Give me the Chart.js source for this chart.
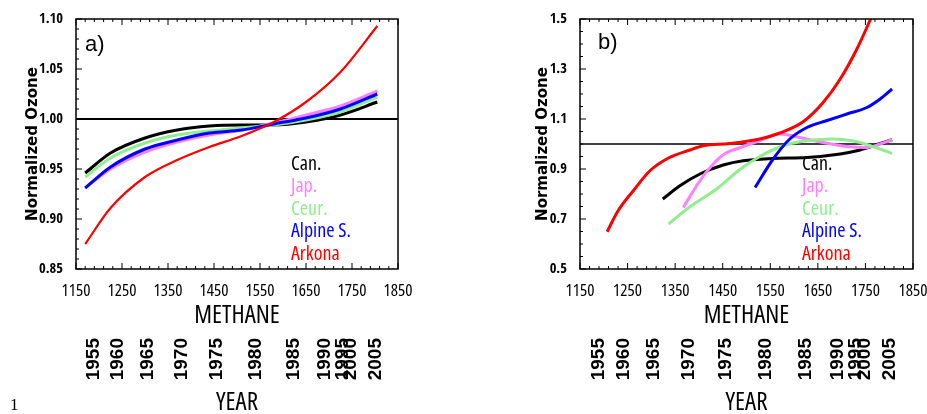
<!DOCTYPE html>
<html>
<head>
<meta charset="utf-8">
<script src="https://cdn.jsdelivr.net/npm/chart.js@4.4.1/dist/chart.umd.min.js"></script>
<style>
  body { margin: 0; background: #fff; }
  #wrap { position: relative; width: 927px; height: 414px; overflow: hidden; }
  canvas { position: absolute; top: 0; }
  #pageNo { position: absolute; left: 10px; top: 395px; font: 17px 'Liberation Serif', serif; }
</style>
</head>
<body>
<div id="wrap">
  <canvas id="chartA" width="463" height="414" style="left:0;width:463px;height:414px"></canvas>
  <canvas id="chartB" width="464" height="414" style="left:463px;width:464px;height:414px"></canvas>
  <span id="pageNo">1</span>
</div>
<script>
// axes
const methaneTicks = [1150, 1250, 1350, 1450, 1550, 1650, 1750, 1850];
const yearLabels = ['1955', '1960', '1965', '1970', '1975', '1980', '1985', '1990', '1995', '2000', '2005'];
const yearMethane = [1189, 1241, 1305, 1379, 1457, 1540, 1624, 1691, 1730, 1748, 1802];
const ozoneTicksA = [0.85, 0.90, 0.95, 1.00, 1.05, 1.10];
const ozoneTicksB = [0.5, 0.7, 0.9, 1.1, 1.3, 1.5];
const refOzone = 1.0;

const seriesNames = ['Can.', 'Jap.', 'Ceur.', 'Alpine S.', 'Arkona'];
const seriesColors = ['#000000', '#ff80ff', '#90ee90', '#0000ff', '#ff0000'];

// panel a) : all stations on the same methane grid
const methaneA = [1170, 1225, 1300, 1370, 1440, 1510, 1580, 1650, 1725, 1805];
const canA    = [0.946, 0.966, 0.981, 0.989, 0.993, 0.994, 0.994, 0.997, 1.004, 1.017];
const japA    = [0.931, 0.950, 0.967, 0.977, 0.984, 0.989, 0.996, 1.004, 1.013, 1.028];
const ceurA   = [0.942, 0.961, 0.976, 0.984, 0.988, 0.991, 0.994, 0.999, 1.007, 1.022];
const alpineA = [0.931, 0.952, 0.970, 0.979, 0.986, 0.989, 0.995, 1.001, 1.010, 1.025];
const arkonaA = [0.875, 0.911, 0.942, 0.959, 0.972, 0.983, 0.997, 1.017, 1.047, 1.093];

// panel b) : each station on its own methane range
const canMethaneB    = [1324, 1360, 1402, 1451, 1493, 1556, 1627, 1697, 1732, 1767, 1806];
const canB           = [0.780, 0.833, 0.880, 0.916, 0.933, 0.942, 0.946, 0.960, 0.973, 0.993, 1.017];
const japMethaneB    = [1367, 1402, 1430, 1455, 1486, 1525, 1570, 1612, 1661, 1711, 1753, 1781, 1806];
const japB           = [0.746, 0.853, 0.920, 0.962, 0.985, 1.012, 1.040, 1.026, 1.006, 0.990, 0.986, 1.000, 1.017];
const ceurMethaneB   = [1336, 1381, 1437, 1486, 1528, 1577, 1627, 1683, 1732, 1767, 1806];
const ceurB          = [0.680, 0.749, 0.820, 0.898, 0.950, 0.993, 1.013, 1.020, 1.009, 0.989, 0.962];
const alpineMethaneB = [1518, 1556, 1591, 1627, 1668, 1711, 1753, 1781, 1806];
const alpineB        = [0.826, 0.940, 1.020, 1.066, 1.093, 1.120, 1.146, 1.180, 1.220];
const arkonaMethaneB = [1207, 1230, 1262, 1297, 1336, 1381, 1409, 1465, 1528, 1570, 1619, 1661, 1697, 1732, 1768];
const arkonaB        = [0.649, 0.733, 0.813, 0.893, 0.944, 0.976, 0.993, 1.002, 1.020, 1.044, 1.089, 1.166, 1.260, 1.380, 1.530];

// condensed Open Sans stands in for the narrow Helvetica of the original
const OPEN = "'Open Sans', sans-serif";
const OPEN_COND = "'Open Sans Condensed', 'Roboto Condensed', sans-serif";
const SANS = "'Liberation Sans', Arial, sans-serif";
const DEJAVU = "'DejaVu Sans', sans-serif";

function pts(xs, ys) {
  return xs.map((m, i) => ({ x: m, y: ys[i] }));
}

// box round the plot with inward ticks (left, top, bottom)
const framePlugin = {
  id: 'frame',
  afterDatasetsDraw(chart, args, opts) {
    const { ctx, chartArea: a, scales } = chart;
    const x = scales.x, y = scales.y;
    ctx.save();
    ctx.strokeStyle = '#000';
    ctx.lineWidth = 1.5;
    ctx.strokeRect(a.left, a.top, a.width, a.height);
    ctx.lineWidth = 1;
    ctx.beginPath();
    const nx = Math.round((x.max - x.min) / opts.xMinor);
    for (let i = 0; i <= nx; i++) {
      const px = x.getPixelForValue(x.min + i * opts.xMinor);
      const len = (i % opts.xPer === 0) ? 6 : 3;
      ctx.moveTo(px, a.bottom); ctx.lineTo(px, a.bottom - len);
      ctx.moveTo(px, a.top); ctx.lineTo(px, a.top + len);
    }
    const ny = Math.round((y.max - y.min) / opts.yMinor);
    for (let i = 0; i <= ny; i++) {
      const py = y.getPixelForValue(y.min + i * opts.yMinor);
      const len = (i % opts.yPer === 0) ? 6 : 3;
      ctx.moveTo(a.left, py); ctx.lineTo(a.left + len, py);
    }
    ctx.stroke();
    ctx.restore();
  }
};

// panel tag and coloured station names
const textPlugin = {
  id: 'panelText',
  afterDraw(chart, args, opts) {
    const { ctx, chartArea: a } = chart;
    ctx.save();
    ctx.font = '22px ' + SANS;
    ctx.fillStyle = '#000';
    ctx.textBaseline = 'alphabetic';
    ctx.fillText(opts.tag, a.left + opts.tagX, a.top + opts.tagY);
    ctx.font = 'condensed 20px ' + OPEN;
    ctx.textBaseline = 'middle';
    let row = 0;
    chart.data.datasets.forEach(ds => {
      if (!ds.label) return;
      ctx.fillStyle = ds.borderColor;
      ctx.fillText(ds.label, a.left + opts.legendX, a.top + 145 + row * 22.5);
      row++;
    });
    ctx.restore();
  }
};

function makeChart(id, o) {
  const datasets = o.series.map((s, i) => ({
    label: seriesNames[i],
    data: s,
    borderColor: seriesColors[i],
    borderWidth: o.widths[i],
    pointRadius: 0,
    cubicInterpolationMode: 'monotone',
    order: 5 - i
  }));
  datasets.push({
    label: '',
    data: pts([1150, 1850], [refOzone, refOzone]),
    borderColor: '#000',
    borderWidth: o.refWidth,
    pointRadius: 0,
    order: 10
  });

  return new Chart(document.getElementById(id), {
    type: 'line',
    data: { datasets: datasets },
    options: {
      responsive: false,
      animation: false,
      devicePixelRatio: 1,
      layout: { padding: { left: o.padLeft, right: o.padRight, top: 19, bottom: 0 } },
      plugins: {
        legend: { display: false },
        tooltip: { enabled: false },
        frame: o.frame,
        panelText: o.text
      },
      scales: {
        x: {
          type: 'linear', position: 'bottom', min: 1150, max: 1850, weight: 0,
          afterBuildTicks: s => { s.ticks = methaneTicks.map(v => ({ value: v })); },
          afterFit: s => { s.height = 58; s.paddingLeft = 0; s.paddingRight = 0; },
          grid: { display: false }, border: { display: false },
          ticks: { autoSkip: false, maxRotation: 0, padding: 4, color: '#000',
                   font: { family: OPEN, size: 17, weight: 'condensed' },
                   callback: v => String(v) },
          title: { display: true, text: 'METHANE', color: '#000', padding: { top: 0, bottom: -4 },
                   font: { family: OPEN, size: 25, weight: 'condensed' } }
        },
        year: {
          type: 'linear', position: 'bottom', min: 1150, max: 1850, weight: 1,
          afterBuildTicks: s => { s.ticks = yearMethane.map(v => ({ value: v })); },
          afterFit: s => { s.height = 87; s.paddingLeft = 0; s.paddingRight = 0; },
          grid: { display: false }, border: { display: false },
          ticks: { autoSkip: false, minRotation: 90, maxRotation: 90, padding: 3, color: '#000',
                   font: { family: SANS, size: 19, weight: 'bold' },
                   callback: (v, i) => yearLabels[i] },
          title: { display: true, text: 'YEAR', color: '#000', padding: { top: 0, bottom: -4 },
                   font: { family: OPEN, size: 25, weight: 'condensed' } }
        },
        y: {
          type: 'linear', position: 'left', min: o.yMin, max: o.yMax,
          afterBuildTicks: s => { s.ticks = o.yTicks.map(v => ({ value: v })); },
          afterFit: s => { s.width = o.yWidth; s.paddingTop = 0; s.paddingBottom = 0; },
          grid: { display: false }, border: { display: false },
          ticks: { padding: 5, color: '#000',
                   font: { family: OPEN_COND, size: 14.5, weight: 'bold' },
                   callback: v => v.toFixed(o.digits) },
          title: { display: true, text: 'Normalized Ozone', color: '#000', padding: 0,
                   font: { family: DEJAVU, size: 15, weight: 'bold' } }
        }
      }
    },
    plugins: [framePlugin, textPlugin]
  });
}

makeChart('chartA', {
  series: [pts(methaneA, canA), pts(methaneA, japA), pts(methaneA, ceurA),
           pts(methaneA, alpineA), pts(methaneA, arkonaA)],
  widths: [3, 3, 3, 3, 2.2],
  refWidth: 2,
  padLeft: 24, yWidth: 52, padRight: 65,
  yMin: 0.85, yMax: 1.10, yTicks: ozoneTicksA, digits: 2,
  frame: { xMinor: 20, xPer: 5, yMinor: 0.01, yPer: 5 },
  text: { tag: 'a)', tagX: 9, tagY: 32, legendX: 215 }
});

makeChart('chartB', {
  series: [pts(canMethaneB, canB), pts(japMethaneB, japB), pts(ceurMethaneB, ceurB),
           pts(alpineMethaneB, alpineB), pts(arkonaMethaneB, arkonaB)],
  widths: [3, 3, 3, 3, 3],
  refWidth: 1.5,
  padLeft: 71, yWidth: 46, padRight: 14,
  yMin: 0.5, yMax: 1.5, yTicks: ozoneTicksB, digits: 1,
  frame: { xMinor: 20, xPer: 5, yMinor: 0.05, yPer: 4 },
  text: { tag: 'b)', tagX: 18, tagY: 30, legendX: 222 }
});
</script>
</body>
</html>
